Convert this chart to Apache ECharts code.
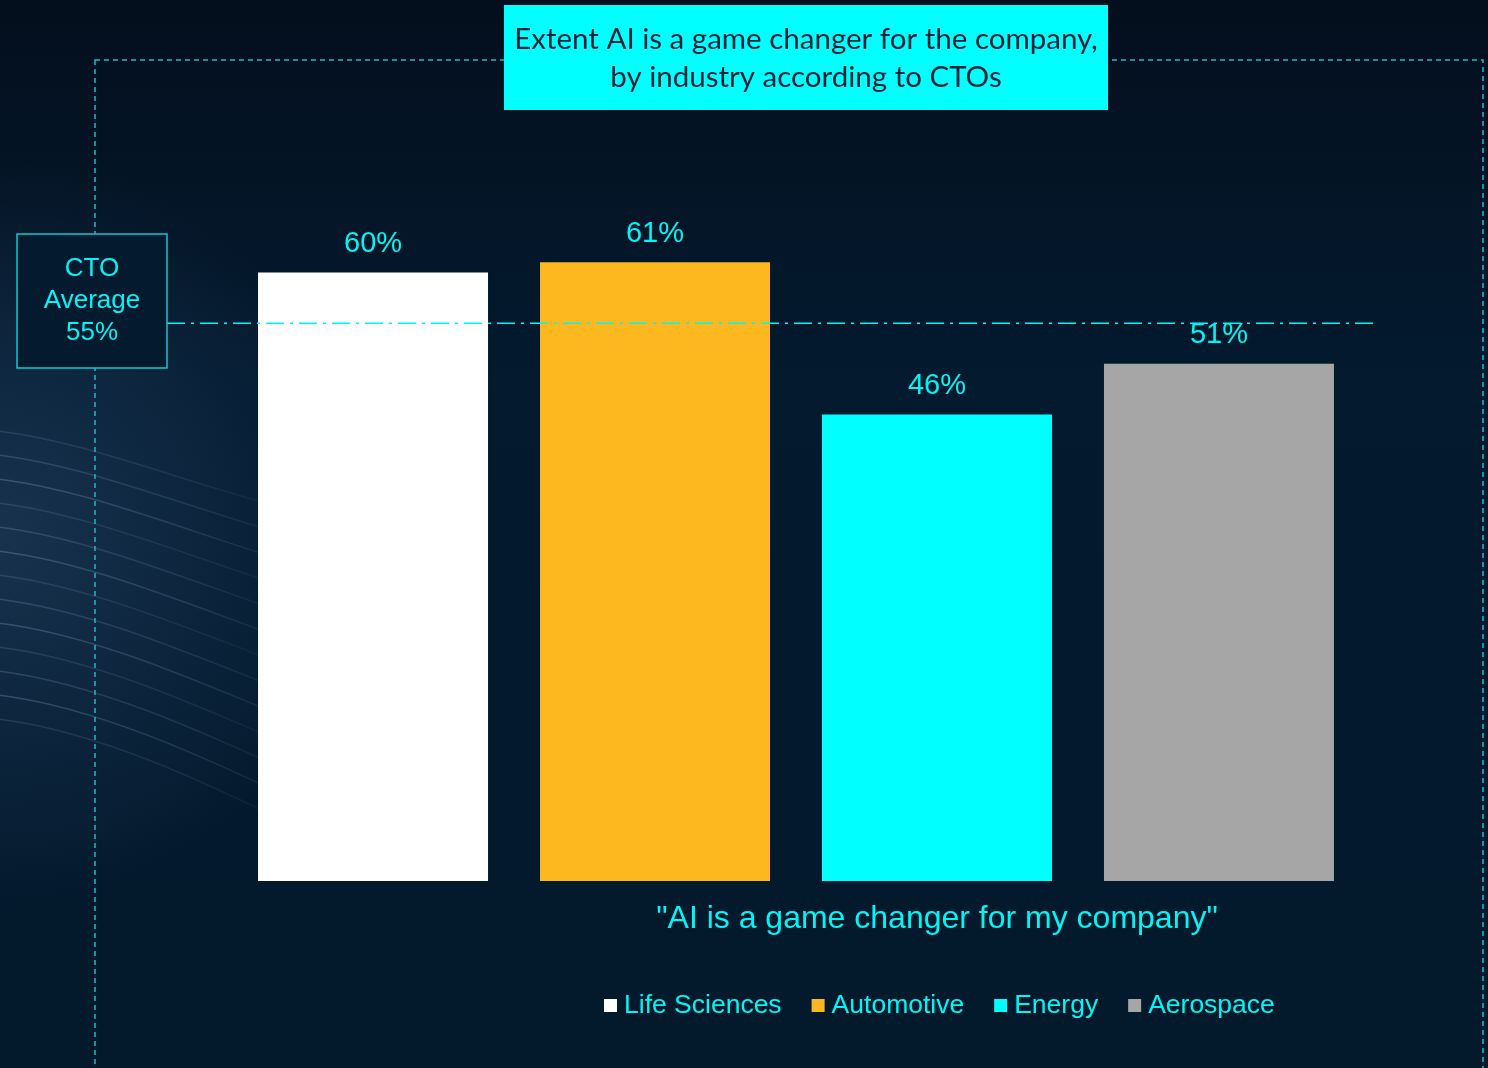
<!DOCTYPE html>
<html>
<head>
<meta charset="utf-8">
<script src="https://cdn.jsdelivr.net/npm/echarts@6/dist/echarts.min.js"></script>
<style>
  html, body { margin: 0; padding: 0; background: #031729; }
  #chart { width: 1488px; height: 1068px; }
</style>
</head>
<body>
<div id="chart"></div>
<script>
// Share of CTOs saying AI is a game changer, by industry
const industries = ['Life Sciences', 'Automotive', 'Energy', 'Aerospace'];
const shares = [60, 61, 46, 51];
const barColors = ['#FFFFFF', '#FDB71F', '#00FFFF', '#A6A6A6'];
const category = ['"AI is a game changer for my company"'];
const ctoAverage = 55;
const titleLines = ['Extent AI is a game changer for the company,', 'by industry according to CTOs'];

const CYAN = '#00F5F5';
const chart = echarts.init(document.getElementById('chart'), null, { renderer: 'canvas' });

// faint wave strands on the left of the backdrop, fading to the right
const waves = [];
for (let i = 0; i < 13; i++) {
  const y0 = 430 + i * 24;
  const a = 0.16 + 0.05 * (i % 3);
  waves.push({
    type: 'bezierCurve', silent: true, z: -9,
    shape: { x1: -10, y1: y0, x2: 330, y2: y0 + 90 + i * 3, cpx1: 90, cpy1: y0 + 10, cpx2: 200, cpy2: y0 + 60 },
    style: {
      fill: null, lineWidth: 1.5,
      stroke: {
        type: 'linear', x: 0, y: 0, x2: 1, y2: 0,
        colorStops: [
          { offset: 0, color: 'rgba(160,195,225,' + a + ')' },
          { offset: 0.6, color: 'rgba(160,195,225,' + (a * 0.6) + ')' },
          { offset: 1, color: 'rgba(160,195,225,0)' }
        ]
      }
    }
  });
}

const series = industries.map((name, i) => ({
  name: name,
  type: 'bar',
  data: [shares[i]],
  barWidth: 230,
  barGap: '22.6%',
  itemStyle: { color: barColors[i] },
  label: {
    show: true, position: 'top', distance: 14,
    formatter: '{c}%', color: CYAN, fontSize: 29,
    fontFamily: 'Liberation Sans, Arial, sans-serif'
  }
}));

chart.setOption({
  backgroundColor: {
    type: 'linear', x: 0, y: 0, x2: 0, y2: 1,
    colorStops: [
      { offset: 0, color: '#040f1d' },
      { offset: 0.35, color: '#031a2f' },
      { offset: 1, color: '#03192c' }
    ]
  },
  animation: false,
  grid: { left: 232, right: 128, top: 171, bottom: 187 },
  xAxis: {
    type: 'category', data: category,
    axisLine: { show: false }, axisTick: { show: false }, axisLabel: { show: false }
  },
  yAxis: {
    type: 'value', min: 0, max: 70,
    show: false, splitLine: { show: false }
  },
  legend: {
    data: industries,
    left: 599, top: 987,
    itemWidth: 13, itemHeight: 13, itemGap: 30,
    icon: 'rect',
    textStyle: { color: CYAN, fontSize: 26.5, fontFamily: 'Liberation Sans, Arial, sans-serif', padding: [0, 0, 0, 2] }
  },
  series: series
});

// CTO average line, placed through the value axis
const avgY = chart.convertToPixel({ yAxisIndex: 0 }, ctoAverage);

chart.setOption({
  graphic: [
    {
      type: 'rect', silent: true, z: -10,
      shape: { x: 0, y: 0, width: 1488, height: 1068 },
      style: {
        fill: {
          type: 'radial', x: 0.0, y: 0.5, r: 0.35,
          colorStops: [
            { offset: 0, color: 'rgba(45,75,110,0.5)' },
            { offset: 1, color: 'rgba(45,75,110,0)' }
          ]
        }
      }
    },
    ...waves,
    // dashed frame around the plot
    {
      type: 'rect', silent: true, z: 1,
      shape: { x: 95, y: 60, width: 1388, height: 1040 },
      style: { fill: null, stroke: '#1BBCC8', lineWidth: 1.5, lineDash: [5, 4] }
    },
    // average reference line
    {
      type: 'line', silent: true, z: 20,
      shape: { x1: 167, y1: avgY, x2: 1378, y2: avgY },
      style: { stroke: CYAN, lineWidth: 1.5, lineDash: [18, 6, 3, 6] }
    },
    // CTO average box
    {
      type: 'rect', silent: true, z: 21,
      shape: { x: 17, y: 234, width: 150, height: 134 },
      style: { fill: '#031a2f', stroke: '#12C6CF', lineWidth: 1.5 }
    },
    {
      type: 'text', silent: true, z: 22,
      x: 92, y: 301,
      style: {
        text: 'CTO\nAverage\n' + ctoAverage + '%',
        fill: CYAN, fontSize: 26, lineHeight: 32,
        fontFamily: 'Liberation Sans, Arial, sans-serif',
        align: 'center', verticalAlign: 'middle'
      }
    },
    // title box
    {
      type: 'rect', silent: true, z: 21,
      shape: { x: 504, y: 5, width: 604, height: 105 },
      style: { fill: '#00FFFF' }
    },
    {
      type: 'text', silent: true, z: 22,
      x: 806, y: 58,
      style: {
        text: titleLines.join('\n'),
        fill: '#0B2236', fontSize: 29.5, lineHeight: 38,
        fontFamily: 'Lato, Open Sans, sans-serif',
        align: 'center', verticalAlign: 'middle'
      }
    },
    // category caption
    {
      type: 'text', silent: true, z: 22,
      x: 937, y: 919,
      style: {
        text: category[0],
        fill: CYAN, fontSize: 32,
        fontFamily: 'Liberation Sans, Arial, sans-serif',
        align: 'center', verticalAlign: 'middle'
      }
    }
  ]
});
</script>
</body>
</html>
